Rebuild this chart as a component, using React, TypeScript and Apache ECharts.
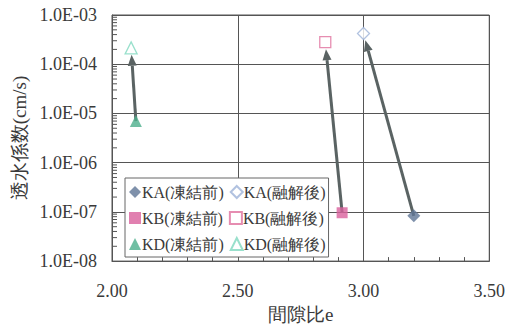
import React, { useEffect, useRef } from "react";
import * as echarts from "echarts";

// e (void ratio) and k (cm/s)
const kaBefore = [[3.2, 8.3e-8]];
const kaAfter = [[3.0, 4.2e-4]];
const kbBefore = [[2.915, 9.6e-8]];
const kbAfter = [[2.848, 2.8e-4]];
const kdBefore = [[2.095, 7.0e-6]];
const kdAfter = [[2.076, 2.15e-4]];

const legendNames = [
  "KA(凍結前)", "KA(融解後)",
  "KB(凍結前)", "KB(融解後)",
  "KD(凍結前)", "KD(融解後)",
];

const xTicks = [2.0, 2.5, 3.0, 3.5];
const yMinorMultipliers = [2, 3, 4, 5, 6, 7, 8, 9];
const yDecades = [-8, -7, -6, -5, -4];

const FONT = "Liberation Serif";
const TXT = "#3a3a3a";

export default function App() {
  const ref = useRef<HTMLDivElement>(null);
  useEffect(() => {
    if (!ref.current) return;
    const chart = echarts.init(ref.current, undefined, { renderer: "svg" });

    const arrows = [
      [kaBefore[0][0], kaBefore[0][1], kaAfter[0][0], kaAfter[0][1]],
      [kbBefore[0][0], kbBefore[0][1], kbAfter[0][0], kbAfter[0][1]],
      [kdBefore[0][0], kdBefore[0][1], kdAfter[0][0], kdAfter[0][1]],
    ];
    const minorTicks: number[][] = [];
    yDecades.forEach((d) =>
      yMinorMultipliers.forEach((m) => minorTicks.push([xTicks[0], m * Math.pow(10, d)]))
    );

    const sc = (name: string, data: number[][], symbol: string, color: string, size: number, filled: boolean) => ({
      name,
      type: "scatter",
      data,
      symbol,
      symbolSize: size,
      z: 5,
      itemStyle: filled
        ? { color, borderWidth: 0 }
        : { color: "#ffffff", borderColor: color, borderWidth: 1.3 },
    });

    chart.setOption({
      animation: false,
      backgroundColor: "#fff",
      textStyle: { fontFamily: FONT, color: TXT },
      grid: { left: 112, right: 17, top: 15, bottom: 64, show: true, borderColor: "#555", borderWidth: 1 },
      legend: {
        data: legendNames,
        left: 125,
        top: 178,
        width: 215,
        orient: "horizontal",
        itemGap: 6,
        itemWidth: 12,
        itemHeight: 12,
        padding: [4, 3, 3, 4],
        backgroundColor: "#fff",
        borderColor: "#666",
        borderWidth: 1,
        borderRadius: 0,
        textStyle: { fontFamily: FONT, fontSize: 16, color: TXT, padding: [0, 0, 0, -4], lineHeight: 20 },
      },
      xAxis: {
        type: "value",
        min: 2,
        max: 3.5,
        interval: 0.5,
        name: "間隙比e",
        nameLocation: "middle",
        nameGap: 43,
        nameTextStyle: { fontFamily: FONT, fontSize: 19, color: TXT },
        axisLine: { lineStyle: { color: "#555" } },
        axisTick: { inside: true, length: 4, lineStyle: { color: "#555" } },
        minorTick: { show: true, splitNumber: 5, length: 4, lineStyle: { color: "#555" } },
        axisLabel: { fontFamily: FONT, fontSize: 18, color: TXT, margin: 21, formatter: (v: number) => v.toFixed(2) },
        splitLine: { show: true, lineStyle: { color: "#555", width: 1 } },
      },
      yAxis: {
        type: "log",
        logBase: 10,
        min: 1e-8,
        max: 1e-3,
        name: "透水係数(cm/s)",
        nameLocation: "middle",
        nameRotate: 90,
        nameGap: 80,
        nameTextStyle: { fontFamily: FONT, fontSize: 19, color: TXT },
        axisLine: { lineStyle: { color: "#555" } },
        axisTick: { show: false },
        axisLabel: {
          fontFamily: FONT,
          fontSize: 18,
          color: TXT,
          margin: 15,
          formatter: (v: number) => {
            const e = Math.round(Math.log10(v));
            return "1.0E" + (e < 0 ? "-" : "+") + String(Math.abs(e)).padStart(2, "0");
          },
        },
        splitLine: { show: true, lineStyle: { color: "#555", width: 1 } },
      },
      series: [
        sc(legendNames[0], kaBefore, "diamond", "#5f7596", 13, true),
        sc(legendNames[1], kaAfter, "diamond", "#9db3d8", 12, false),
        sc(legendNames[2], kbBefore, "rect", "#d9609c", 11, true),
        sc(legendNames[3], kbAfter, "rect", "#e0709e", 11, false),
        sc(legendNames[4], kdBefore, "triangle", "#4caf8c", 12, true),
        sc(legendNames[5], kdAfter, "triangle", "#7fd8bf", 12, false),
        {
          type: "custom",
          name: "arrows",
          data: arrows,
          encode: { x: [0, 2], y: [1, 3] },
          z: 4,
          silent: true,
          renderItem: (params: any, api: any) => {
            const p0 = api.coord([api.value(0), api.value(1)]);
            const p1 = api.coord([api.value(2), api.value(3)]);
            const dx = p1[0] - p0[0];
            const dy = p1[1] - p0[1];
            const len = Math.sqrt(dx * dx + dy * dy);
            const ux = dx / len, uy = dy / len;
            const tip = [p1[0] - ux * 7, p1[1] - uy * 7];
            const headLen = 11, headW = 4.5;
            const base = [tip[0] - ux * headLen, tip[1] - uy * headLen];
            const nx = -uy, ny = ux;
            const color = "#5a6363";
            return {
              type: "group",
              children: [
                {
                  type: "line",
                  shape: { x1: p0[0], y1: p0[1], x2: base[0], y2: base[1] },
                  style: { stroke: color, lineWidth: 3 },
                },
                {
                  type: "polygon",
                  shape: {
                    points: [
                      tip,
                      [base[0] + nx * headW, base[1] + ny * headW],
                      [base[0] - nx * headW, base[1] - ny * headW],
                    ],
                  },
                  style: { fill: color },
                },
              ],
            };
          },
        },
        {
          type: "custom",
          name: "minor",
          data: minorTicks,
          encode: { x: 0, y: 1 },
          silent: true,
          z: 3,
          renderItem: (params: any, api: any) => {
            const p = api.coord([api.value(0), api.value(1)]);
            return {
              type: "line",
              shape: { x1: p[0], y1: p[1], x2: p[0] + 5, y2: p[1] },
              style: { stroke: "#555", lineWidth: 1 },
            };
          },
        },
      ],
    });
    return () => chart.dispose();
  }, []);
  return (
    <div
      ref={ref}
      style={{ position: "fixed", left: 0, top: 0, width: 508, height: 329, background: "#fff" }}
    />
  );
}
